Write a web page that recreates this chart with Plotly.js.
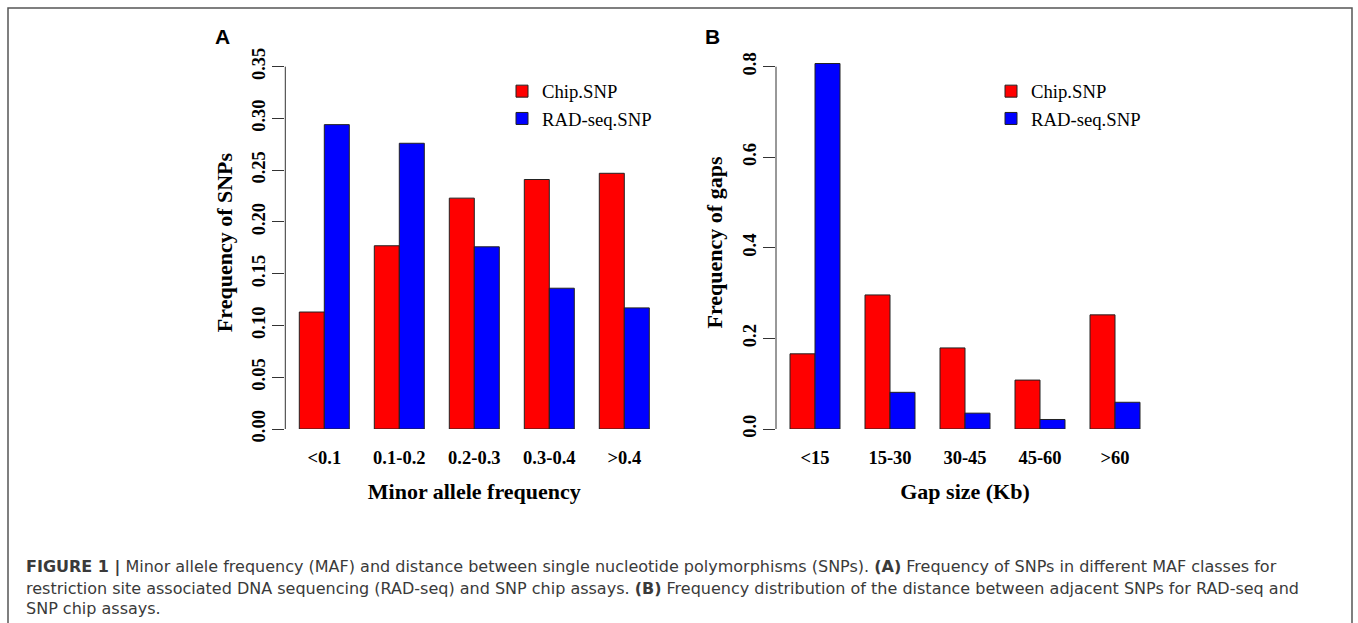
<!DOCTYPE html>
<html>
<head>
<meta charset="utf-8">
<script src="https://cdn.plot.ly/plotly-3.0.1.min.js"></script>
<style>html,body{margin:0;padding:0;background:#fff;}#chart{width:1358px;height:623px;}</style>
</head>
<body>
<div id="chart"></div>
<script>
// ---- Data ----
var seriesNames = ["Chip.SNP", "RAD-seq.SNP"];
var mafClasses = ["<0.1", "0.1-0.2", "0.2-0.3", "0.3-0.4", ">0.4"];
var mafChip = [0.113, 0.177, 0.223, 0.241, 0.247];
var mafRad  = [0.294, 0.276, 0.176, 0.136, 0.117];
var gapClasses = ["<15", "15-30", "30-45", "45-60", ">60"];
var gapChip = [0.166, 0.296, 0.179, 0.108, 0.252];
var gapRad  = [0.807, 0.081, 0.035, 0.021, 0.059];
var mafTicks = [0, 0.05, 0.10, 0.15, 0.20, 0.25, 0.30, 0.35];
var gapTicks = [0, 0.2, 0.4, 0.6, 0.8];
var captionLines = [
  "<b>FIGURE 1 |</b> Minor allele frequency (MAF) and distance between single nucleotide polymorphisms (SNPs). <b>(A)</b> Frequency of SNPs in different MAF classes for",
  "restriction site associated DNA sequencing (RAD-seq) and SNP chip assays. <b>(B)</b> Frequency distribution of the distance between adjacent SNPs for RAD-seq and",
  "SNP chip assays."
];

// ---- Styling ----
var W = 1358, H = 623;
var colors = ["#ff0000", "#0000ff"];
var serif = "Liberation Serif, Times New Roman, serif";
var sans = "Liberation Sans, Arial, sans-serif";
var px = function(x){ return x / W; };
var py = function(y){ return 1 - y / H; };

function barTrace(x, y, i, xa, ya, lg, show) {
  return {
    type: "bar", x: x, y: y, name: seriesNames[i],
    xaxis: xa, yaxis: ya, legend: lg, showlegend: show,
    marker: {color: colors[i], line: {color: "#222", width: 1}},
    hoverinfo: "x+y"
  };
}

var data = [
  barTrace(mafClasses, mafChip, 0, "x", "y", "legend", true),
  barTrace(mafClasses, mafRad, 1, "x", "y", "legend", true),
  barTrace(gapClasses, gapChip, 0, "x2", "y2", "legend2", true),
  barTrace(gapClasses, gapRad, 1, "x2", "y2", "legend2", true)
];

var tickFont = {family: serif, size: 18.5, color: "#000", weight: "bold"};
var titleFont = {family: serif, size: 22, color: "#000", weight: "bold"};

function xAxis(domain, title) {
  return {
    domain: domain, range: [-0.52, 4.52], type: "category",
    showgrid: false, zeroline: false, showline: false, ticks: "",
    tickfont: tickFont, ticklabelstandoff: 15,
    title: {text: title, font: titleFont, standoff: 17},
    fixedrange: true
  };
}
function yAxis(range, ticks, fmt, title, anchor) {
  return {
    domain: [py(429), py(56)], range: range, anchor: anchor,
    showgrid: false, zeroline: false, showline: false,
    tickmode: "array", tickvals: ticks, tickformat: fmt,
    ticks: "outside", ticklen: 12, tickcolor: "#333", tickwidth: 1,
    tickangle: -90, tickfont: tickFont, ticklabelstandoff: 0,
    title: {text: title, font: titleFont, standoff: 10},
    fixedrange: true
  };
}

var layout = {
  width: W, height: H,
  margin: {l: 0, r: 0, t: 0, b: 0},
  paper_bgcolor: "#fff", plot_bgcolor: "rgba(0,0,0,0)",
  barmode: "group", bargap: 1/3, bargroupgap: 0,
  xaxis: xAxis([px(285.3), px(663.3)], "Minor allele frequency"),
  yaxis: yAxis([0, 0.3603], mafTicks, ".2f", "Frequency of SNPs", "x"),
  xaxis2: Object.assign(xAxis([px(776), px(1154)], "Gap size (Kb)"), {anchor: "y2"}),
  yaxis2: yAxis([0, 0.8236], gapTicks, ".1f", "Frequency of gaps", "x2"),
  legend: {x: px(502), y: py(72.5), xanchor: "left", yanchor: "top",
           bgcolor: "rgba(0,0,0,0)", font: {family: serif, size: 18.7, color: "#000"},
           tracegroupgap: 0, itemclick: false},
  legend2: {x: px(991), y: py(72.5), xanchor: "left", yanchor: "top",
           bgcolor: "rgba(0,0,0,0)", font: {family: serif, size: 18.7, color: "#000"},
           tracegroupgap: 0, itemclick: false},
  shapes: [
    {type: "line", xref: "x domain", yref: "y", x0: 0, x1: 0, y0: mafTicks[0], y1: mafTicks[mafTicks.length-1],
     line: {color: "#333", width: 1}},
    {type: "line", xref: "x2 domain", yref: "y2", x0: 0, x1: 0, y0: gapTicks[0], y1: gapTicks[gapTicks.length-1],
     line: {color: "#333", width: 1}},
    {type: "path", xref: "paper", yref: "paper",
     path: "M " + px(8) + "," + py(625) + " L " + px(8) + "," + py(8) + " L " + px(1352) + "," + py(8) + " L " + px(1352) + "," + py(625),
     line: {color: "#555", width: 1.5}}
  ],
  annotations: [
    {text: "<b>A</b>", xref: "paper", yref: "paper", x: px(222), y: py(36), xanchor: "center", yanchor: "middle",
     showarrow: false, font: {family: sans, size: 21, color: "#000"}},
    {text: "<b>B</b>", xref: "paper", yref: "paper", x: px(712.5), y: py(36), xanchor: "center", yanchor: "middle",
     showarrow: false, font: {family: sans, size: 21, color: "#000"}}
  ]
};
var capY = [567, 588, 608];
captionLines.forEach(function(t, i){
  layout.annotations.push({text: t, xref: "paper", yref: "paper", x: px(24), y: py(capY[i]),
    xanchor: "left", yanchor: "middle", align: "left", showarrow: false,
    font: {family: "DejaVu Sans, sans-serif", size: 16, color: "#3a3a3a"}});
});

Plotly.newPlot("chart", data, layout, {displayModeBar: false, staticPlot: true});
</script>
</body>
</html>
